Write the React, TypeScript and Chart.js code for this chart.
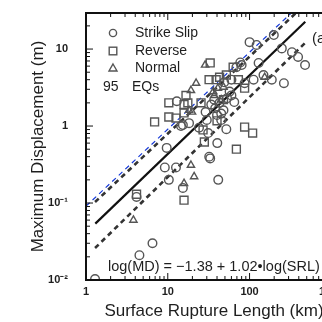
import React, { useEffect, useRef } from "react";
import { Chart, registerables } from "chart.js";

Chart.register(...registerables);

// ---- data (SRL in km, MD in m) ----
const strikeSlipSRL = [1.29, 4.5, 6.5, 4.15, 9.7, 9.2, 10.3, 12.6, 15.3, 12.9, 14.5, 18.2, 15.3, 31.2, 24.1, 32.1, 33.0, 40.3, 41.4, 52, 65, 69, 80, 77, 100, 122, 198, 248, 330, 392, 477, 129, 148, 187, 263, 87, 60, 49, 37, 43, 48, 40, 45, 57, 34, 112, 29, 53, 38, 45, 60, 30];
const strikeSlipMD = [0.0103, 0.021, 0.03, 0.12, 0.52, 0.29, 0.2, 0.29, 0.157, 2.1, 1.0, 1.09, 1.03, 0.81, 0.95, 0.4, 0.38, 0.6, 0.2, 0.91, 2.05, 5.8, 6.2, 6.7, 12.3, 11.3, 15.2, 10.2, 9.1, 7.9, 6.2, 6.6, 4.6, 4.0, 3.6, 3.6, 4.0, 3.7, 2.2, 2.0, 1.6, 1.39, 1.2, 2.8, 1.9, 4.0, 1.52, 2.3, 1.7, 1.45, 2.5, 1.2];

const reverseSRL = [4.15, 15.8, 6.9, 10.3, 10.3, 12.6, 16.7, 17.6, 15.8, 25.5, 33, 32, 39, 43, 73, 63, 87, 40, 27, 28, 69, 87, 109, 52, 48, 15.8];
const reverseMD = [0.13, 0.109, 1.13, 2.0, 1.31, 1.27, 2.5, 2.0, 1.48, 2.0, 6.6, 4.0, 4.0, 4.3, 4.0, 5.8, 3.1, 1.17, 0.89, 0.62, 0.5, 0.97, 0.81, 4.6, 2.2, 1.9];

const normalSRL = [3.8, 19.2, 21, 15.8, 28.6, 22.2, 19.2, 19.8, 36, 41, 48, 37, 153, 45, 18.2];
const normalMD = [0.06, 0.31, 0.22, 0.18, 6.2, 3.6, 2.9, 1.52, 2.8, 3.1, 3.2, 2.5, 4.3, 2.2, 1.6];

// regression line and bands (end points)
const fitSRL = [1.3, 480];
const fitMD = [0.054, 22.6];
const upperSRL = [1.29, 380];
const upperMD = [0.103, 30.3];
const lowerSRL = [1.29, 477];
const lowerMD = [0.026, 12.0];
const blueSRL = [1, 330];
const blueMD = [0.091, 30];

const xTickValues = [1, 10, 100, 1000];
const xTickLabels = ["1", "10", "100", "1000"];
const yTickValues = [0.01, 0.1, 1, 10];
const yTickLabels = ["10\u207B\u00B2", "10\u207B\u00B9", "1", "10"];

const xTitle = "Surface Rupture Length (km)";
const yTitle = "Maximum Displacement (m)";
const legendLabels = ["Strike Slip", "Reverse", "Normal"];
const countLabel = ["95", "EQs"];
const equation = "log(MD) = \u22121.38 + 1.02\u2022log(SRL)";
const panelLabel = "(a)";

const FONT = '"Liberation Sans", Arial, Helvetica, sans-serif';
const INK = "#1e1e1e";
const MARK = "#555";

const pts = (xs: number[], ys: number[]) => xs.map((x, i) => ({ x, y: ys[i] }));

const zeroPad = (s: any) => {
  s.paddingTop = 0;
  s.paddingBottom = 0;
  s.paddingLeft = 0;
  s.paddingRight = 0;
};

const framePlugin = {
  id: "frame",
  afterDraw(chart: any) {
    const { ctx, chartArea } = chart;
    const { left, right, top, bottom } = chartArea;
    const xs = chart.scales.x;
    const ys = chart.scales.y;
    ctx.save();
    ctx.strokeStyle = "#111";
    ctx.lineWidth = 2;
    ctx.beginPath();
    ctx.moveTo(left, top);
    ctx.lineTo(right + 10, top);
    ctx.moveTo(left, top - 1);
    ctx.lineTo(left, bottom);
    ctx.lineTo(right + 10, bottom);
    ctx.stroke();

    // inward minor/major ticks
    ctx.lineWidth = 1;
    ctx.beginPath();
    for (let e = -2; e <= 1; e++) {
      for (let k = 1; k <= 9; k++) {
        const v = k * Math.pow(10, e);
        if (v < ys.min || v > ys.max) continue;
        const py = ys.getPixelForValue(v);
        const len = k === 1 ? 7 : 4;
        ctx.moveTo(left, py);
        ctx.lineTo(left + len, py);
      }
    }
    for (let e = 0; e <= 3; e++) {
      for (let k = 1; k <= 9; k++) {
        const v = k * Math.pow(10, e);
        if (v < xs.min || v > xs.max) continue;
        const px = xs.getPixelForValue(v);
        const len = k === 1 ? 7 : 4;
        ctx.moveTo(px, bottom);
        ctx.lineTo(px, bottom - len);
        ctx.moveTo(px, top);
        ctx.lineTo(px, top + len);
      }
    }
    ctx.stroke();

    // legend
    const lx = left + 27;
    const rows = [top + 20, top + 38, top + 55];
    ctx.strokeStyle = MARK;
    ctx.lineWidth = 1.4;
    ctx.beginPath();
    ctx.arc(lx, rows[0], 3.6, 0, Math.PI * 2);
    ctx.stroke();
    ctx.strokeRect(lx - 3.8, rows[1] - 3.8, 7.6, 7.6);
    ctx.beginPath();
    ctx.moveTo(lx, rows[2] - 4);
    ctx.lineTo(lx + 4, rows[2] + 3);
    ctx.lineTo(lx - 4, rows[2] + 3);
    ctx.closePath();
    ctx.stroke();

    ctx.fillStyle = INK;
    ctx.font = `14px ${FONT}`;
    ctx.textBaseline = "middle";
    ctx.textAlign = "left";
    legendLabels.forEach((t, i) => ctx.fillText(t, left + 49, rows[i]));
    ctx.fillText(countLabel[0], left + 17, top + 74);
    ctx.fillText(countLabel[1], left + 46, top + 74);

    ctx.font = `14.5px ${FONT}`;
    ctx.fillText(equation, left + 22, bottom - 13);
    ctx.font = `15px ${FONT}`;
    ctx.fillText(panelLabel, left + 226, top + 26);
    ctx.restore();
  },
};

export default function App() {
  const ref = useRef<HTMLCanvasElement | null>(null);

  useEffect(() => {
    if (!ref.current) return;
    const chart = new Chart(ref.current, {
      type: "scatter",
      data: {
        datasets: [
          {
            label: "Strike Slip",
            data: pts(strikeSlipSRL, strikeSlipMD),
            pointStyle: "circle",
            pointRadius: 4.3,
            borderColor: MARK,
            backgroundColor: "rgba(0,0,0,0)",
            borderWidth: 1.4,
          },
          {
            label: "Reverse",
            data: pts(reverseSRL, reverseMD),
            pointStyle: "rect",
            pointRadius: 5.6,
            borderColor: MARK,
            backgroundColor: "rgba(0,0,0,0)",
            borderWidth: 1.4,
          },
          {
            label: "Normal",
            data: pts(normalSRL, normalMD),
            pointStyle: "triangle",
            pointRadius: 4.2,
            borderColor: MARK,
            backgroundColor: "rgba(0,0,0,0)",
            borderWidth: 1.4,
          },
          {
            label: "fit",
            data: pts(fitSRL, fitMD),
            showLine: true,
            pointRadius: 0,
            borderColor: "#111",
            borderWidth: 2.2,
          },
          {
            label: "upper",
            data: pts(upperSRL, upperMD),
            showLine: true,
            pointRadius: 0,
            borderColor: "#333",
            borderWidth: 2.6,
            borderDash: [5, 4],
          },
          {
            label: "lower",
            data: pts(lowerSRL, lowerMD),
            showLine: true,
            pointRadius: 0,
            borderColor: "#333",
            borderWidth: 2.6,
            borderDash: [5, 4],
          },
          {
            label: "blue",
            data: pts(blueSRL, blueMD),
            showLine: true,
            pointRadius: 0,
            borderColor: "#1438d8",
            borderWidth: 1.2,
            borderDash: [5, 4],
          },
        ],
      },
      options: {
        responsive: false,
        animation: false,
        devicePixelRatio: 1,
        layout: { padding: { top: 13, right: 8, left: 0, bottom: 0 } },
        plugins: { legend: { display: false }, tooltip: { enabled: false } },
        scales: {
          x: {
            type: "logarithmic",
            min: 1,
            max: 1350,
            grid: { display: false, drawTicks: false },
            border: { display: false },
            afterBuildTicks: (s: any) => {
              s.ticks = xTickValues.map((v) => ({ value: v }));
            },
            afterFit: (s: any) => {
              s.height = 42;
              zeroPad(s);
            },
            ticks: {
              autoSkip: false,
              maxRotation: 0,
              padding: 5,
              color: INK,
              font: { family: FONT, size: 11, weight: "bold" },
              callback: (_v: any, i: number) => xTickLabels[i],
            },
            title: {
              display: true,
              text: xTitle,
              color: INK,
              font: { family: FONT, size: 17 },
              padding: { top: 0, bottom: 0 },
            },
          },
          y: {
            type: "logarithmic",
            min: 0.01,
            max: 29.4,
            grid: { display: false, drawTicks: false },
            border: { display: false },
            afterBuildTicks: (s: any) => {
              s.ticks = yTickValues.map((v) => ({ value: v }));
            },
            afterFit: (s: any) => {
              s.width = 86;
              zeroPad(s);
            },
            ticks: {
              autoSkip: false,
              padding: 18,
              color: INK,
              font: { family: FONT, size: 11, weight: "bold" },
              callback: (_v: any, i: number) => yTickLabels[i],
            },
            title: {
              display: true,
              text: yTitle,
              color: INK,
              font: { family: FONT, size: 17 },
              padding: { top: 28, bottom: 0 },
            },
          },
        },
      },
      plugins: [framePlugin],
    } as any);
    return () => chart.destroy();
  }, []);

  return (
    <div
      style={{
        position: "fixed",
        left: 0,
        top: 0,
        width: 322,
        height: 322,
        overflow: "hidden",
        background: "#fff",
      }}
    >
      <canvas ref={ref} width={350} height={322} style={{ display: "block" }} />
    </div>
  );
}
